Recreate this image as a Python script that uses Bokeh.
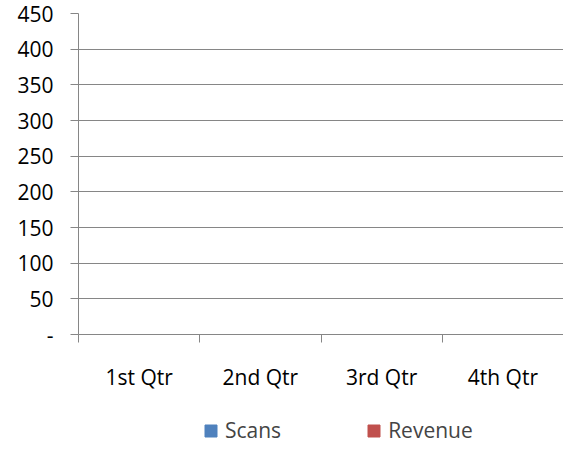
from bokeh.plotting import figure
from bokeh.layouts import column
from bokeh.models import FixedTicker, Legend, LegendItem, Range1d
from bokeh.embed import file_html
from bokeh.resources import INLINE

quarters = ["1st Qtr", "2nd Qtr", "3rd Qtr", "4th Qtr"]
scans = [0, 0, 0, 0]
revenue = [0, 0, 0, 0]
y_ticks = [0, 50, 100, 150, 200, 250, 300, 350, 400, 450]
y_labels = ["-", "50", "100", "150", "200", "250", "300", "350", "400", "450"]

FONT = "Open Sans"
GRID = "#868686"
BLUE = "#4F81BD"
RED = "#C0504D"

p = figure(width=563, height=395, output_backend="svg", toolbar_location=None,
           x_range=Range1d(0, len(quarters)), y_range=Range1d(0, 450),
           min_border_left=78, min_border_right=0, min_border_top=13, min_border_bottom=61)
p.outline_line_color = None
p.background_fill_color = "white"
p.border_fill_color = "white"

centers = [i + 0.5 for i in range(len(quarters))]
p.vbar(x=[c - 0.15 for c in centers], top=scans, width=0.3, color=BLUE)
p.vbar(x=[c + 0.15 for c in centers], top=revenue, width=0.3, color=RED)

xa = p.xaxis[0]
xa.ticker = FixedTicker(ticks=centers, minor_ticks=list(range(len(quarters) + 1)))
xa.major_label_overrides = {c: q for c, q in zip(centers, quarters)}
xa.major_tick_line_color = None
xa.major_tick_out = 0
xa.major_tick_in = 0
xa.minor_tick_out = 8
xa.minor_tick_in = 0
xa.minor_tick_line_color = GRID
xa.axis_line_color = GRID
xa.major_label_text_font = FONT
xa.major_label_text_font_size = "21px"
xa.major_label_text_color = "black"
xa.major_label_standoff = 20

ya = p.yaxis[0]
ya.ticker = FixedTicker(ticks=y_ticks)
ya.major_label_overrides = {t: l for t, l in zip(y_ticks, y_labels)}
ya.major_tick_out = 8
ya.major_tick_in = 0
ya.major_tick_line_color = GRID
ya.minor_tick_line_color = None
ya.axis_line_color = GRID
ya.major_label_text_font = FONT
ya.major_label_text_font_size = "21px"
ya.major_label_text_color = "black"
ya.major_label_standoff = 17

p.xgrid.grid_line_color = None
p.ygrid.grid_line_color = GRID
p.ygrid.ticker = FixedTicker(ticks=y_ticks)

# legend strip
lg = figure(width=563, height=49, output_backend="svg", toolbar_location=None,
            x_range=Range1d(0, len(quarters)), y_range=Range1d(0, 450),
            x_axis_location=None, y_axis_location=None,
            min_border_left=0, min_border_right=0, min_border_top=0, min_border_bottom=0)
lg.grid.grid_line_color = None
lg.outline_line_color = None
r1 = lg.vbar(x=[c - 0.15 for c in centers], top=scans, width=0.3, color=BLUE)
r2 = lg.vbar(x=[c + 0.15 for c in centers], top=revenue, width=0.3, color=RED)

legend = Legend(items=[LegendItem(label="Scans", renderers=[r1]),
                       LegendItem(label="Revenue", renderers=[r2])],
                orientation="horizontal", location=(125, 0),
                label_text_font=FONT, label_text_font_size="21px",
                glyph_width=15, glyph_height=15, label_standoff=7, spacing=85,
                border_line_color=None, background_fill_alpha=0, margin=0, padding=0)
lg.add_layout(legend, "center")

layout = column(p, lg, spacing=0)
open("out.html", "w").write(file_html(layout, INLINE))
